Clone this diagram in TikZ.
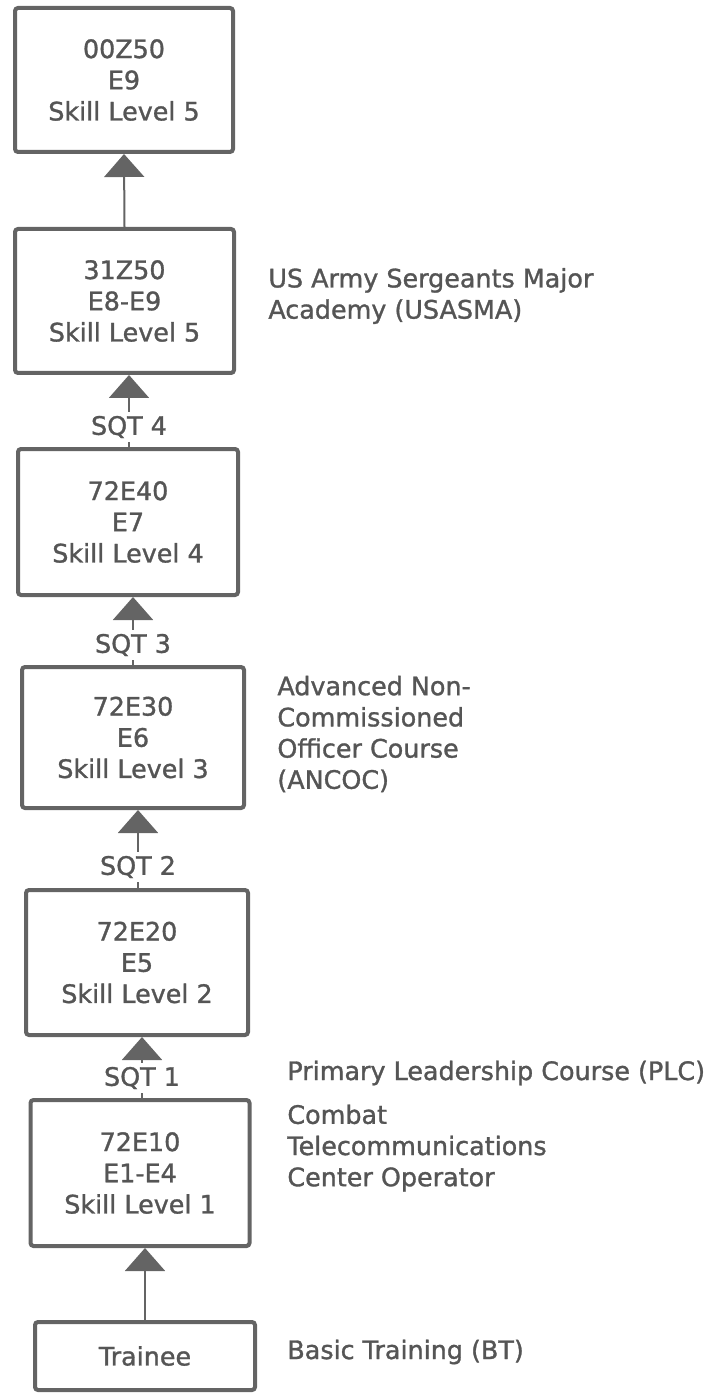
\documentclass[tikz,border=0pt]{standalone}
\usepackage{fontspec}
\setmainfont{DejaVu Sans}[FakeBold=1.2]
\usetikzlibrary{arrows.meta,positioning}
\definecolor{inkgray}{RGB}{85,85,85}
\definecolor{framegray}{RGB}{100,100,100}
\newcommand\gradefont{\fontsize{12.7}{15.6}\selectfont}

\begin{document}
\begin{tikzpicture}[x=0.5pt,y=-0.5pt,
  gradebox/.style={draw=framegray, line width=2pt, rounded corners=1.5pt, fill=white,
    align=center, font=\gradefont, text=inkgray, inner sep=0pt},
  sqtlabel/.style={font=\gradefont, text=inkgray, inner sep=2pt},
  course/.style={font=\gradefont, text=inkgray, align=left, anchor=west, inner sep=0pt},
  uparrow/.style={draw=framegray, line width=1pt,
    -{Triangle[width=20pt,length=11.5pt,fill=framegray]}}]
\useasboundingbox (0,0) rectangle (712,1395);
% career ladder boxes
\node[gradebox, minimum width=109pt, minimum height=72pt] (box1) at (124,80) {00Z50\\E9\\Skill Level 5};
\node[gradebox, minimum width=109.5pt, minimum height=72pt] (box2) at (124.5,301) {31Z50\\E8-E9\\Skill Level 5};
\node[gradebox, minimum width=110pt, minimum height=73pt] (box3) at (128,522) {72E40\\E7\\Skill Level 4};
\node[gradebox, minimum width=111pt, minimum height=70.5pt] (box4) at (133,737.5) {72E30\\E6\\Skill Level 3};
\node[gradebox, minimum width=111pt, minimum height=72.5pt] (box5) at (137,962.5) {72E20\\E5\\Skill Level 2};
\node[gradebox, minimum width=109.5pt, minimum height=73pt] (box6) at (140,1173) {72E10\\E1-E4\\Skill Level 1};
\node[gradebox, minimum width=110pt, minimum height=34pt] (box7) at (145,1356) {Trainee};
% skill qualification tests
\node[sqtlabel] (sqt4) at (129,427) {SQT 4};
\node[sqtlabel] (sqt3) at (133,645) {SQT 3};
\node[sqtlabel] (sqt2) at (138,867) {SQT 2};
\node[sqtlabel] (sqt1) at (142,1078) {SQT 1};
% connectors
\draw[uparrow] (box2.north) -- (box1.south);
\draw[framegray, line width=1pt] (sqt4 |- box3.north) -- (sqt4);
\draw[uparrow] (sqt4) -- (sqt4 |- box2.south);
\draw[framegray, line width=1pt] (sqt3 |- box4.north) -- (sqt3);
\draw[uparrow] (sqt3) -- (sqt3 |- box3.south);
\draw[framegray, line width=1pt] (sqt2 |- box5.north) -- (sqt2);
\draw[uparrow] (sqt2) -- (sqt2 |- box4.south);
\draw[framegray, line width=1pt] (sqt1 |- box6.north) -- (sqt1);
\draw[uparrow] (sqt1) -- (sqt1 |- box5.south);
\draw[uparrow] (box7.north) -- (box7.north |- box6.south);
% courses
\node[course] (usasma) at (268,296) {US Army Sergeants Major\\Academy (USASMA)};
\node[course] (ancoc) at (277,734) {Advanced Non-\\Commissioned\\Officer Course\\(ANCOC)};
\node[course] (plc) at (287,1073) {Primary Leadership Course (PLC)};
\node[course] (mos) at (287,1148) {Combat\\Telecommunications\\Center Operator};
\node[course] (bt) at (287,1352) {Basic Training (BT)};
\end{tikzpicture}
\end{document}
